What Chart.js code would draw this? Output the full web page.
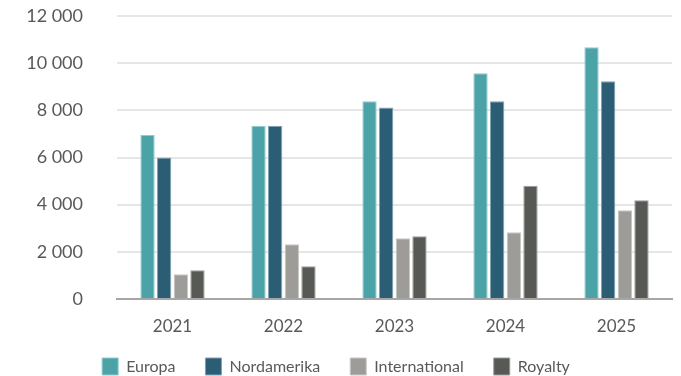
<!DOCTYPE html>
<html>
<head>
<meta charset="utf-8">
<script src="https://cdn.jsdelivr.net/npm/chart.js@4/dist/chart.umd.min.js"></script>
<style>
  html, body { margin: 0; padding: 0; background: #ffffff; }
  #wrap { width: 681px; height: 376px; position: relative; }
</style>
</head>
<body>
<div id="wrap"><canvas id="chart"></canvas></div>
<script>
// Years on the category axis
const years = ['2021', '2022', '2023', '2024', '2025'];

// Revenue per region
const europa        = [6950, 7350, 8380, 9570, 10680];
const nordamerika   = [6000, 7350, 8120, 8380, 9230];
const international = [1050, 2320, 2580, 2830, 3760];
const royalty       = [1220, 1390, 2660, 4800, 4190];

// Value-axis ticks
const yTicks = [0, 2000, 4000, 6000, 8000, 10000, 12000];

const fontFamily = 'Lato, "Open Sans", sans-serif';
const textColor = '#595959';

// Thousands separated by a space, e.g. 12 000
function fmt(v) {
  return String(v).replace(/\B(?=(\d{3})+(?!\d))/g, '\u00a0');
}

const series = [
  { label: 'Europa',        data: europa,        color: '#4ba3a8', edge: '#8fcbce' },
  { label: 'Nordamerika',   data: nordamerika,   color: '#2b5d75', edge: '#7fa3b5' },
  { label: 'International', data: international, color: '#9d9c98', edge: '#c8c7c4' },
  { label: 'Royalty',       data: royalty,       color: '#575954', edge: '#9a9b97' }
];

// Pull the legend row up a little so it sits closer to the year labels
const legendLift = {
  id: 'legendLift',
  afterLayout(chart) {
    const lg = chart.legend;
    if (lg) { lg.top -= 9; lg.height += 9; }
  }
};

new Chart(document.getElementById('chart'), {
  type: 'bar',
  data: {
    labels: years,
    datasets: series.map(s => ({
      label: s.label,
      data: s.data,
      backgroundColor: s.color,
      borderColor: s.edge,
      borderWidth: 1,
      categoryPercentage: 0.6,
      barPercentage: 0.86
    }))
  },
  plugins: [legendLift],
  options: {
    responsive: true,
    maintainAspectRatio: false,
    animation: false,
    layout: { padding: { left: 0, right: 9, top: 0, bottom: 0 } },
    plugins: {
      tooltip: { enabled: false },
      legend: {
        position: 'bottom',
        maxHeight: 39,
        labels: {
          boxWidth: 16,
          boxHeight: 17,
          padding: 30,
          color: textColor,
          font: { family: fontFamily, size: 16 },
          useBorderRadius: false
        }
      }
    },
    scales: {
      x: {
        grid: { display: false, drawTicks: false },
        border: { display: true, color: '#a6a6a6', width: 2 },
        afterFit: scale => { scale.height = 38; },
        ticks: {
          color: textColor,
          padding: 17,
          font: { family: fontFamily, size: 17 }
        }
      },
      y: {
        min: 0,
        max: 12000,
        afterBuildTicks: scale => { scale.ticks = yTicks.map(v => ({ value: v })); },
        afterFit: scale => {
          scale.width = 117;
          scale.paddingTop = 16;
          scale.paddingBottom = 0;
        },
        grid: { color: '#e6e6e6', lineWidth: 2, drawTicks: false },
        border: { display: false },
        ticks: {
          color: textColor,
          padding: 34,
          font: { family: fontFamily, size: 18 },
          callback: v => fmt(v)
        }
      }
    }
  }
});
</script>
</body>
</html>
